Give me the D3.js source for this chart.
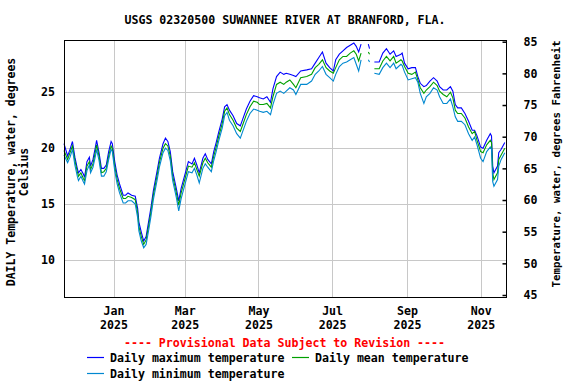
<!DOCTYPE html>
<html>
<head>
<meta charset="utf-8">
<script src="https://cdn.jsdelivr.net/npm/d3@7"></script>
<style>
  body { margin: 0; background: #fff; }
  svg text { font-family: "DejaVu Sans Mono", monospace; font-weight: bold; font-size: 11.6px; fill: #000; }
</style>
</head>
<body>
<svg id="chart" width="576" height="384"></svg>
<script>
const W = 576, H = 384;
const m = { left: 64, right: 506, top: 40, bottom: 297 };

// dates (null values break the line where data is missing)
const dates = [
  "2024-11-21","2024-11-24","2024-11-26","2024-11-28","2024-11-30","2024-12-02","2024-12-03","2024-12-05",
  "2024-12-07","2024-12-08","2024-12-10","2024-12-12","2024-12-13","2024-12-15","2024-12-17","2024-12-18",
  "2024-12-20","2024-12-22","2024-12-24","2024-12-26","2024-12-28","2024-12-30","2024-12-31","2025-01-02",
  "2025-01-04","2025-01-06","2025-01-09","2025-01-11","2025-01-13","2025-01-16","2025-01-19","2025-01-21",
  "2025-01-22","2025-01-24","2025-01-26","2025-01-28","2025-01-30","2025-02-01","2025-02-03","2025-02-06",
  "2025-02-08","2025-02-11","2025-02-13","2025-02-15","2025-02-17","2025-02-19","2025-02-22","2025-02-24",
  "2025-02-26","2025-03-01","2025-03-04","2025-03-07","2025-03-09","2025-03-11","2025-03-13","2025-03-16",
  "2025-03-18","2025-03-20","2025-03-23","2025-03-25","2025-03-27","2025-03-29","2025-04-01","2025-04-03",
  "2025-04-05","2025-04-07","2025-04-10","2025-04-13","2025-04-16","2025-04-18","2025-04-21","2025-04-24",
  "2025-04-27","2025-04-30","2025-05-02","2025-05-05","2025-05-08","2025-05-11","2025-05-13","2025-05-16",
  "2025-05-19","2025-05-22","2025-05-24","2025-05-27","2025-05-30","2025-06-01","2025-06-05","2025-06-10",
  "2025-06-14","2025-06-17","2025-06-20","2025-06-23","2025-06-26","2025-06-29","2025-07-02","2025-07-04",
  "2025-07-07","2025-07-10","2025-07-13","2025-07-16","2025-07-19","2025-07-21","2025-07-23","2025-07-25",
  "2025-07-28","2025-07-31","2025-08-01","2025-08-03","2025-08-05","2025-08-09","2025-08-12","2025-08-15",
  "2025-08-18","2025-08-21","2025-08-23","2025-08-27","2025-08-28","2025-08-30","2025-09-02","2025-09-05",
  "2025-09-08","2025-09-10","2025-09-12","2025-09-15","2025-09-17","2025-09-20","2025-09-23","2025-09-26",
  "2025-09-28","2025-10-01","2025-10-04","2025-10-07","2025-10-09","2025-10-11","2025-10-13","2025-10-16",
  "2025-10-19","2025-10-22","2025-10-25","2025-10-27","2025-10-29","2025-11-01","2025-11-03","2025-11-06",
  "2025-11-09","2025-11-10","2025-11-11","2025-11-12","2025-11-15","2025-11-16","2025-11-18","2025-11-21"
];

const maxT = [
  20.4,19.3,19.9,20.6,19.2,18.2,17.8,18.1, 17.7,17.4,18.8,19.2,18.4,19.0,20.1,20.7,
  19.6,18.2,18.2,18.5,19.7,20.6,20.4,18.8, 17.6,16.8,15.8,15.8,16.0,15.8,15.7,14.6,
  13.4,12.5,11.7,12.1,13.4,14.7,16.2,17.9, 19.1,20.4,20.9,20.6,19.7,17.9,16.4,15.3,
  16.4,17.6,18.8,18.6,19.1,18.5,17.8,19.1, 19.5,19.0,18.6,19.7,20.5,21.4,22.6,23.7,
  23.9,23.4,22.9,22.2,22.0,22.6,23.5,24.2, 24.7,24.6,24.5,24.4,24.6,24.1,25.3,26.4,
  26.8,26.6,26.7,26.6,26.5,26.4,26.9,27.0, 27.1,27.6,28.1,28.6,27.6,27.2,26.9,27.9,
  28.4,28.7,29.0,29.2,29.4,29.1,28.6,29.3, null,29.3,28.9,null,27.7,27.7,28.5,28.9,
  28.4,28.7,28.2,28.4,28.5,27.6,27.1,27.2, 27.2,26.4,25.8,25.5,25.6,26.0,26.3,26.0,
  25.5,25.2,25.2,25.5,25.1,23.9,23.6,23.6, 23.1,22.4,21.6,21.6,21.1,20.1,20.0,20.7,
  21.3,21.1,18.4,17.8,18.4,19.6,19.9,20.5
];

const meanT = [
  19.8,19.0,19.6,20.2,18.9,17.9,17.5,17.8, 17.3,17.1,18.4,18.8,18.1,18.6,19.7,20.3,
  19.3,17.8,17.9,18.2,19.3,20.2,20.0,18.4, 17.2,16.4,15.5,15.5,15.7,15.6,15.4,14.2,
  13.0,12.1,11.4,11.8,13.0,14.3,15.8,17.5, 18.7,20.0,20.4,20.2,19.3,17.5,16.0,14.9,
  16.0,17.2,18.4,18.3,18.7,18.1,17.5,18.7, 19.1,18.7,18.3,19.3,20.1,21.0,22.2,23.3,
  23.6,23.0,22.5,21.8,21.5,22.1,23.0,23.7, 24.2,24.1,23.9,23.9,24.0,23.6,24.6,25.7,
  25.9,25.7,25.9,26.1,25.7,25.4,26.3,26.4, 26.6,27.2,27.5,27.9,27.2,26.9,26.7,27.2,
  27.9,28.2,28.2,28.5,28.7,28.4,27.8,28.5, null,28.6,28.4,null,27.1,27.1,27.8,28.2,
  27.8,28.2,27.6,27.9,27.8,27.3,26.7,26.6, 26.8,26.1,25.4,24.9,25.2,25.5,25.9,25.6,
  25.1,24.8,24.6,25.0,24.5,23.4,23.1,23.1, 22.7,21.9,21.3,21.5,20.7,19.7,19.6,20.3,
  20.7,20.5,17.8,17.2,17.8,19.0,19.4,20.0
];

const minT = [
  19.4,18.7,19.2,19.9,18.5,17.5,17.1,17.5, 17.0,16.8,18.0,18.5,17.8,18.3,19.3,19.9,
  18.9,17.5,17.5,17.9,19.0,19.9,19.7,18.0, 16.8,16.0,15.1,15.1,15.3,15.3,15.0,13.8,
  12.6,11.7,11.1,11.4,12.6,13.9,15.4,17.1, 18.3,19.6,20.0,19.8,18.9,17.1,15.6,14.4,
  15.5,16.7,17.9,17.8,18.2,17.6,16.9,18.2, 18.6,18.3,17.9,18.9,19.7,20.6,21.8,22.9,
  23.2,22.5,22.0,21.3,20.9,21.5,22.4,23.1, 23.5,23.4,23.3,23.2,23.3,23.0,23.9,24.9,
  25.1,24.9,25.1,25.4,25.2,24.8,25.7,25.7, 26.0,26.6,26.9,27.3,26.6,26.3,26.0,26.6,
  27.3,27.6,27.7,27.9,28.1,27.5,26.9,27.9, null,27.9,27.7,null,26.7,26.6,27.2,27.6,
  27.2,27.6,27.1,27.5,27.4,26.8,26.1,26.2, 26.3,25.9,24.9,24.0,24.6,24.9,25.4,25.2,
  24.6,24.0,24.0,24.4,23.7,22.8,22.4,22.4, 22.1,21.3,20.7,21.0,20.3,19.1,18.8,19.7,
  20.1,19.9,17.0,16.6,17.2,18.4,19.0,19.6
];

const yTicksC = [10, 15, 20, 25];
const yTicksF = [45, 50, 55, 60, 65, 70, 75, 80, 85];
const xTicks = ["2025-01-01","2025-03-01","2025-05-01","2025-07-01","2025-09-01","2025-11-01"];

const series = [
  { name: "Daily maximum temperature", values: maxT, color: "#0000ff" },
  { name: "Daily mean temperature", values: meanT, color: "#00a000" },
  { name: "Daily minimum temperature", values: minT, color: "#0088d0" }
];

const parse = d3.timeParse("%Y-%m-%d");
const days = dates.map(parse);

const x = d3.scaleTime()
  .domain([parse("2024-11-21"), parse("2025-11-22")])
  .range([m.left, m.right]);
const yC = d3.scaleLinear().domain([6.7, 29.67]).range([m.bottom, m.top]);
const yF = d3.scaleLinear().domain([45, 85]).range([295, 41.7]);

const svg = d3.select("#chart");

// grid
const grid = svg.append("g").attr("stroke", "#c8c8c8").attr("stroke-width", 1).attr("shape-rendering", "crispEdges");
grid.selectAll("line.h").data(yTicksC).enter().append("line")
  .attr("x1", m.left).attr("x2", m.right)
  .attr("y1", d => Math.round(yC(d)) + 0.5).attr("y2", d => Math.round(yC(d)) + 0.5);
grid.selectAll("line.v").data(xTicks.map(parse)).enter().append("line")
  .attr("y1", m.top).attr("y2", m.bottom)
  .attr("x1", d => Math.round(x(d)) + 0.5).attr("x2", d => Math.round(x(d)) + 0.5);

// lines
const line = d3.line()
  .defined(d => d.v != null)
  .x(d => x(d.t))
  .y(d => yC(d.v));

svg.append("g").selectAll("path")
  .data(series).enter().append("path")
  .attr("fill", "none")
  .attr("stroke", d => d.color)
  .attr("stroke-width", 1.1)
  .attr("d", d => line(d.values.map((v, i) => ({ t: days[i], v: v }))));

// frame
svg.append("rect")
  .attr("x", m.left + 0.5).attr("y", m.top + 0.5)
  .attr("width", m.right - m.left).attr("height", m.bottom - m.top)
  .attr("fill", "none").attr("stroke", "#000").attr("stroke-width", 1.5)
  .attr("shape-rendering", "crispEdges");

// left axis labels
const left = svg.append("g")
  .attr("transform", `translate(${m.left},0)`)
  .call(d3.axisLeft(yC).tickValues(yTicksC).tickSize(0).tickPadding(9));
left.select(".domain").remove();

// right axis, ticks pointing inward
const right = svg.append("g")
  .attr("transform", `translate(${m.right + 0.5},0)`)
  .call(d3.axisRight(yF).tickValues(yTicksF).tickSizeInner(-4).tickSizeOuter(0).tickPadding(17));
right.select(".domain").remove();
right.selectAll(".tick line").attr("stroke", "#000").attr("stroke-width", 1.5);

// bottom axis with two-line labels (month over year)
const bottom = svg.append("g")
  .attr("transform", `translate(0,${m.bottom})`)
  .call(d3.axisBottom(x).tickValues(xTicks.map(parse)).tickSize(0).tickFormat(""));
bottom.select(".domain").remove();
bottom.selectAll(".tick").each(function(d) {
  const g = d3.select(this);
  g.append("text").attr("y", 18).attr("text-anchor", "middle").text(d3.timeFormat("%b")(d));
  g.append("text").attr("y", 31.6).attr("text-anchor", "middle").text(d3.timeFormat("%Y")(d));
});

svg.selectAll(".tick text").style("font-family", "DejaVu Sans Mono").style("font-weight", "bold").style("font-size", "11.6px");

// title
svg.append("text")
  .attr("x", 285).attr("y", 24)
  .attr("text-anchor", "middle")
  .text("USGS 02320500 SUWANNEE RIVER AT BRANFORD, FLA.");

// axis titles
svg.append("text")
  .attr("transform", "translate(15,172) rotate(-90)")
  .attr("text-anchor", "middle")
  .style("font-size", "11.5px")
  .text("DAILY Temperature, water, degrees");
svg.append("text")
  .attr("transform", "translate(28,172) rotate(-90)")
  .attr("text-anchor", "middle")
  .style("font-size", "11.5px")
  .text("Celsius");
svg.append("text")
  .attr("transform", "translate(560,164) rotate(-90)")
  .attr("text-anchor", "middle")
  .style("font-size", "10.8px")
  .text("Temperature, water, degrees Fahrenheit");

// provisional note and legend
svg.append("text")
  .attr("x", 284.5).attr("y", 347)
  .attr("text-anchor", "middle")
  .style("fill", "#ff0000")
  .text("---- Provisional Data Subject to Revision ----");

const legendPos = [[87, 357], [292, 357], [87, 373]];
const leg = svg.append("g").selectAll("g")
  .data(series).enter().append("g")
  .attr("transform", (d, i) => `translate(${legendPos[i][0]},${legendPos[i][1]})`);
leg.append("line")
  .attr("x1", 0).attr("x2", 17).attr("y1", 0.5).attr("y2", 0.5)
  .attr("stroke", d => d.color).attr("stroke-width", 1.2);
leg.append("text")
  .attr("x", 23).attr("y", 4.5)
  .text(d => d.name);
</script>
</body>
</html>
